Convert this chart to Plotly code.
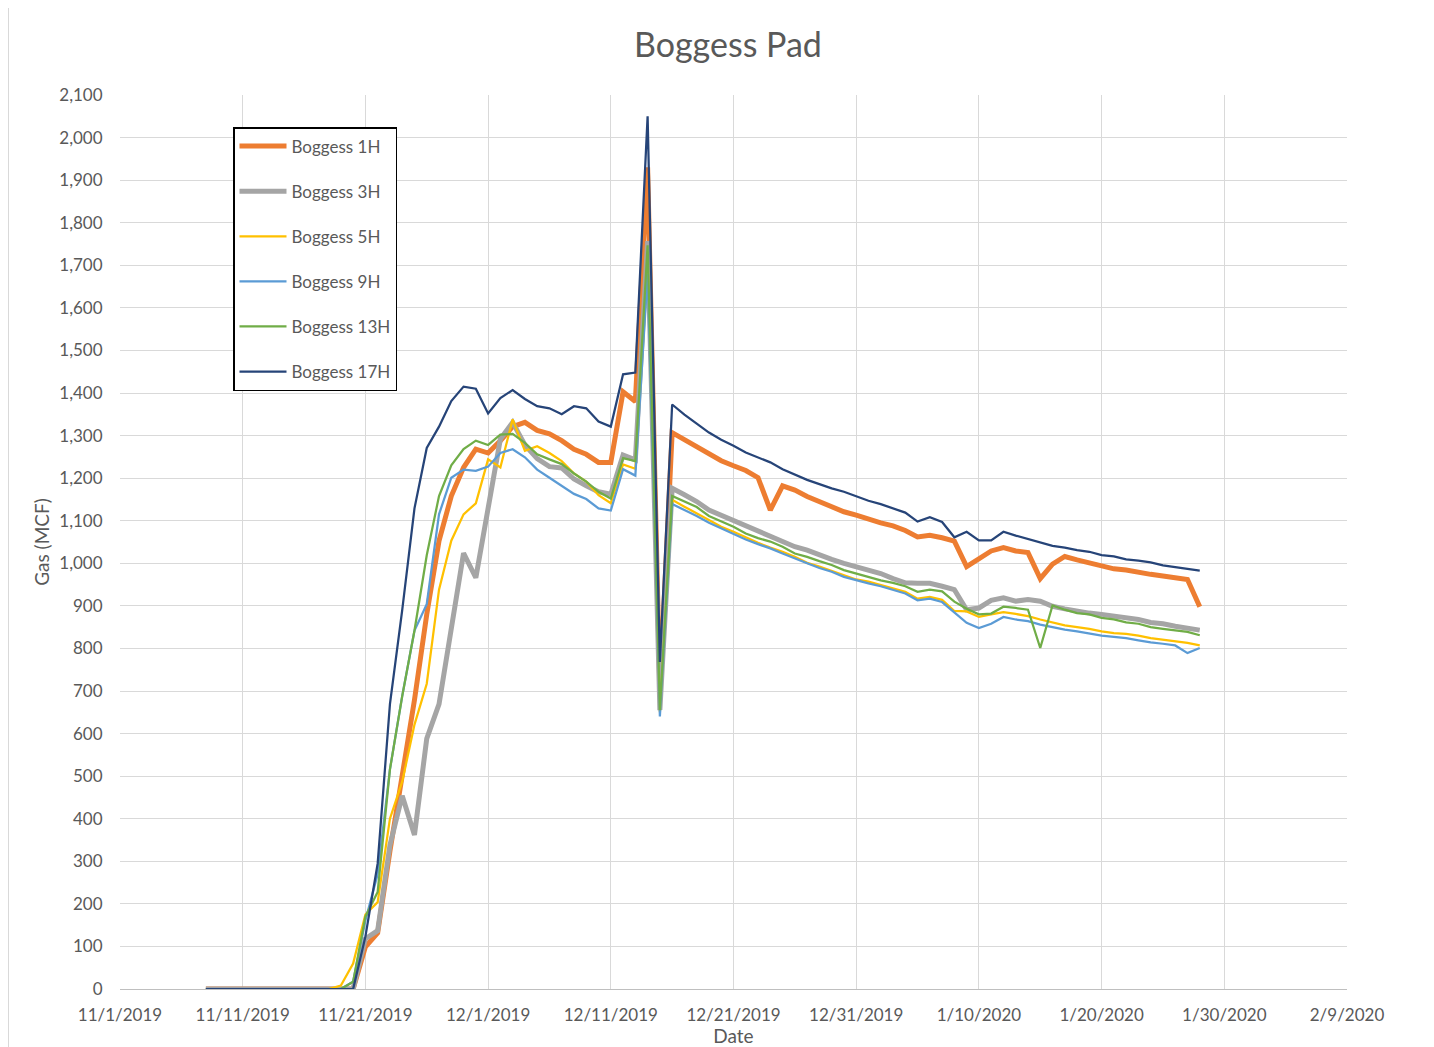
import pandas as pd
import plotly.graph_objects as go

dates = pd.date_range("2019-11-08", "2020-01-28", freq="D")

boggess_1h = [0]*12 + [0, 99, 132, 324, 506, 679, 880, 1053, 1158, 1225, 1268,
    1259, 1288, 1321, 1331, 1312, 1304, 1288, 1268, 1256, 1237,
    1237, 1403, 1380, 1930, 700, 1307, 1290, 1274, 1257, 1241,
    1229, 1218, 1201, 1125, 1182, 1172, 1157, 1145, 1133, 1121, 1113,
    1103, 1095, 1088, 1077, 1062, 1066, 1060, 1052, 992, 1009,
    1029, 1037, 1029, 1025, 964, 998, 1016, 1008, 1000, 992,
    987, 984, 978, 974, 970, 966, 962, 898]

boggess_3h = [0]*12 + [0, 118, 137, 338, 454, 362, 588, 669, 842, 1024, 966,
    1129, 1292, 1331, 1278, 1246, 1227, 1224, 1198, 1182, 1168,
    1162, 1254, 1243, 1757, 655, 1176, 1161, 1145, 1125, 1113,
    1100, 1086, 1074, 1064, 1051, 1039, 1031, 1019, 1009, 1000, 992,
    984, 976, 964, 954, 953, 953, 946, 938, 891, 895,
    913, 919, 911, 915, 911, 899, 893, 887, 883, 880,
    876, 873, 868, 861, 858, 852, 848, 843]

boggess_5h = [0]*11 + [8, 60, 175, 204, 400, 487, 621, 717, 938, 1053, 1115, 1141,
    1244, 1225, 1338, 1264, 1275, 1259, 1240, 1211, 1192, 1160,
    1141, 1232, 1222, 1700, 650, 1149, 1133, 1117, 1102, 1086,
    1074, 1061, 1048, 1037, 1027, 1015, 1001, 992, 982, 972, 962,
    957, 949, 941, 933, 917, 921, 914, 888, 887, 874,
    880, 885, 881, 876, 868, 861, 854, 850, 846, 840,
    836, 834, 830, 824, 820, 817, 813, 807]

boggess_9h = [0]*12 + [17, 161, 270, 516, 688, 842, 904, 1115, 1201, 1220, 1217,
    1227, 1259, 1268, 1249, 1220, 1201, 1182, 1163, 1151, 1129,
    1124, 1221, 1206, 1680, 640, 1139, 1125, 1111, 1095, 1082,
    1069, 1056, 1045, 1035, 1023, 1011, 1000, 989, 980, 968, 960,
    953, 946, 938, 929, 913, 917, 909, 885, 860, 848,
    858, 874, 868, 864, 856, 850, 844, 840, 835, 830,
    827, 824, 819, 814, 811, 807, 789, 801]

boggess_13h = [0]*12 + [17, 170, 228, 516, 688, 842, 1019, 1158, 1230, 1268, 1288,
    1278, 1302, 1304, 1283, 1256, 1244, 1233, 1211, 1192, 1168,
    1152, 1247, 1240, 1747, 655, 1158, 1145, 1132, 1111, 1098,
    1086, 1070, 1059, 1051, 1039, 1023, 1015, 1005, 996, 984, 976,
    968, 960, 954, 946, 933, 938, 934, 910, 893, 880,
    882, 898, 895, 891, 801, 901, 891, 883, 880, 872,
    868, 861, 858, 850, 846, 843, 839, 831]

boggess_17h = [0]*12 + [0, 123, 295, 669, 890, 1129, 1271, 1321, 1381, 1415, 1410,
    1352, 1388, 1407, 1386, 1369, 1364, 1350, 1369, 1364, 1333,
    1321, 1444, 1448, 2050, 768, 1373, 1349, 1329, 1307, 1290,
    1276, 1260, 1249, 1237, 1221, 1208, 1196, 1186, 1176, 1168, 1157,
    1147, 1139, 1129, 1119, 1098, 1108, 1097, 1061, 1074, 1054,
    1054, 1074, 1065, 1057, 1049, 1041, 1037, 1031, 1027, 1019,
    1016, 1009, 1006, 1002, 995, 991, 987, 983]

series_names = ["Boggess 1H", "Boggess 3H", "Boggess 5H", "Boggess 9H", "Boggess 13H", "Boggess 17H"]
series_values = [boggess_1h, boggess_3h, boggess_5h, boggess_9h, boggess_13h, boggess_17h]
colors = ["#ED7D31", "#A5A5A5", "#FFC000", "#5B9BD5", "#70AD47", "#264478"]
widths = [5, 5, 2.25, 2.25, 2.25, 2.25]

FONT = "Lato, Open Sans, sans-serif"
GRAY = "#595959"

W, H = 1426, 1039
ML, MR, MT, MB = 112, 87, 87, 58
PW, PH = W - ML - MR, H - MT - MB

fig = go.Figure()
for i, (name, vals) in enumerate(zip(series_names, series_values)):
    fig.add_trace(go.Scatter(
        x=dates, y=vals, name=name, mode="lines",
        line=dict(color=colors[i], width=widths[i]),
        legendgroup=name,
    ))

fig.update_layout(
    width=W, height=H,
    paper_bgcolor="white", plot_bgcolor="white",
    margin=dict(l=ML, r=MR, t=MT, b=MB, autoexpand=False),
    title=dict(text="Boggess Pad", x=(728 - 8 - ML) / PW, xref="paper", xanchor="center",
               y=1 - 37 / H, yref="container", yanchor="middle",
               font=dict(family=FONT, size=34, color=GRAY)),
    font=dict(family=FONT, size=16, color=GRAY),
    showlegend=True,
    legend=dict(x=(233 - 8 - ML) / PW, y=1 - (127 - 8 - MT) / PH, xanchor="left", yanchor="top",
                bgcolor="white", bordercolor="black", borderwidth=1.5,
                font=dict(family=FONT, size=17, color=GRAY),
                traceorder="grouped", tracegroupgap=20, itemwidth=47),
    xaxis=dict(
        type="date",
        range=["2019-11-01", "2020-02-09"],
        tick0="2019-11-01", dtick=10 * 24 * 3600 * 1000,
        tickformat="%-m/%-d/%Y",
        showgrid=True, gridcolor="#d9d9d9", gridwidth=1,
        showline=True, linecolor="#bfbfbf", linewidth=1,
        ticks="outside", ticklen=11, tickcolor="rgba(0,0,0,0)",
        tickfont=dict(family=FONT, size=17, color=GRAY),
        title=dict(text="Date", font=dict(family=FONT, size=19, color=GRAY), standoff=2),
        zeroline=False, automargin=False,
    ),
    yaxis=dict(
        range=[0, 2100], dtick=100, tickformat=",",
        showgrid=True, gridcolor="#d9d9d9", gridwidth=1,
        showline=False, zeroline=False,
        ticks="outside", ticklen=13, tickcolor="rgba(0,0,0,0)",
        tickfont=dict(family=FONT, size=17, color=GRAY),
        title=dict(text="Gas (MCF)", font=dict(family=FONT, size=19, color=GRAY), standoff=4),
        automargin=False,
    ),
)

fig.add_shape(type="rect", xref="paper", yref="paper",
              x0=(0.5 - ML) / PW, x1=2.0,
              y0=-1.0, y1=1 + (MT + 1.5) / PH,
              line=dict(color="#d9d9d9", width=1), fillcolor="rgba(0,0,0,0)", layer="below")

fig.write_html("out.html")
